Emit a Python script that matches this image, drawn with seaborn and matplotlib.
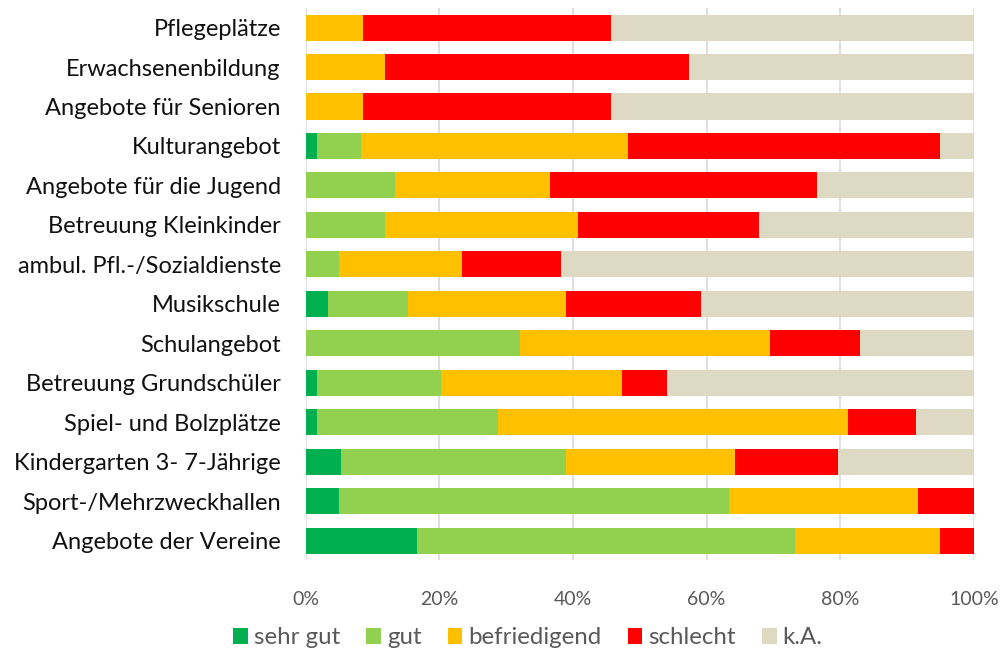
import matplotlib
matplotlib.use("Agg")
import matplotlib.pyplot as plt
import seaborn as sns
import numpy as np
import pandas as pd
from matplotlib.patches import Patch

categories = ["Pflegeplätze", "Erwachsenenbildung", "Angebote für Senioren", "Kulturangebot",
              "Angebote für die Jugend", "Betreuung Kleinkinder", "ambul. Pfl.-/Sozialdienste",
              "Musikschule", "Schulangebot", "Betreuung Grundschüler", "Spiel- und Bolzplätze",
              "Kindergarten 3- 7-Jährige", "Sport-/Mehrzweckhallen", "Angebote der Vereine"]

sehr_gut     = [0.0, 0.0, 0.0, 1.6, 0.0, 0.0, 0.0, 3.3, 0.0, 1.6, 1.6, 5.2, 4.9, 16.6]
gut          = [0.0, 0.0, 0.0, 6.6, 13.3, 11.9, 4.9, 12.0, 32.0, 18.7, 27.1, 33.8, 58.4, 56.6]
befriedigend = [8.5, 11.9, 8.5, 40.1, 23.2, 28.8, 18.5, 23.7, 37.5, 27.1, 52.5, 25.2, 28.3, 21.7]
schlecht     = [37.2, 45.5, 37.2, 46.6, 40.0, 27.1, 14.8, 20.1, 13.4, 6.7, 10.1, 15.4, 8.4, 5.1]
k_a          = [54.3, 42.6, 54.3, 5.1, 23.5, 32.2, 61.8, 40.9, 17.1, 45.9, 8.7, 20.4, 0.0, 0.0]

series = ["sehr gut", "gut", "befriedigend", "schlecht", "k.A."]
colors = ["#00B050", "#92D050", "#FFC000", "#FF0000", "#DDD9C3"]

df = pd.DataFrame({"Kategorie": categories, "sehr gut": sehr_gut, "gut": gut,
                   "befriedigend": befriedigend, "schlecht": schlecht, "k.A.": k_a})
cum = df[series].cumsum(axis=1)

sns.set_style("white")
plt.rcParams["font.family"] = ["Lato", "DejaVu Sans"]

fig = plt.figure(figsize=(10.06, 6.53), dpi=100)
ax = fig.add_axes([0.304, 0.142, 0.664, 0.846])

ax.set_axisbelow(True)
ax.grid(axis="x", color="#D9D9D9", linewidth=1.2)

# draw from the total down so each shorter bar covers the previous one
for s, c in zip(series[::-1], colors[::-1]):
    sns.barplot(x=cum[s], y=df["Kategorie"], color=c, orient="h", width=0.66,
                saturation=1, ax=ax, linewidth=0)

ax.set_xlim(0, 100)
ax.set_ylim(13.5, -0.5)
ax.set_xticks(range(0, 101, 20))
ax.set_xticklabels([f"{v}%" for v in range(0, 101, 20)], color="#595959", fontsize=14)
ax.tick_params(axis="y", length=0, pad=18, labelsize=17, labelcolor="#111111")
ax.tick_params(axis="x", length=0, pad=22)
ax.set_xlabel("")
ax.set_ylabel("")
for sp in ax.spines.values():
    sp.set_visible(False)

handles = [Patch(facecolor=c, edgecolor="none") for c in colors]
fig.legend(handles, series, loc="center", bbox_to_anchor=(528 / 1006, 1 - 638 / 653), ncol=5,
           frameon=False, fontsize=17.3, handlelength=0.6, handleheight=0.6,
           handletextpad=0.25, columnspacing=1.1, labelcolor="#595959",
           borderpad=0, borderaxespad=0)

fig.savefig("out.png", dpi=100)
